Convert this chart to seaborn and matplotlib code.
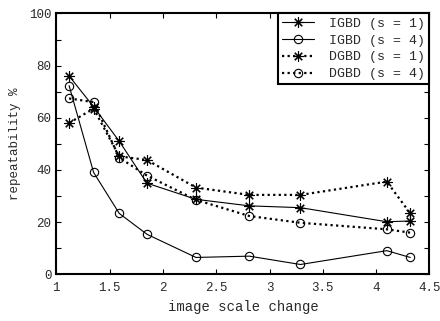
import matplotlib
matplotlib.use("Agg")
import matplotlib.pyplot as plt
import seaborn as sns
import pandas as pd
import numpy as np

scale = [1.12, 1.35, 1.59, 1.85, 2.31, 2.81, 3.29, 4.10, 4.32]
igbd_s1 = [76.0, 64.2, 51.0, 34.9, 28.7, 26.2, 25.5, 20.1, 20.4]
igbd_s4 = [72.3, 39.0, 23.3, 15.3, 6.4, 6.9, 3.7, 9.0, 6.4]
dgbd_s1 = [58.0, 63.5, 45.2, 43.8, 33.2, 30.4, 30.4, 35.5, 23.3]
dgbd_s4 = [67.4, 66.0, 44.7, 37.8, 28.5, 22.3, 19.7, 17.2, 15.9]
labels = ["IGBD (s = 1)", "IGBD (s = 4)", "DGBD (s = 1)", "DGBD (s = 4)"]
xticks = [1, 1.5, 2, 2.5, 3, 3.5, 4, 4.5]
xticklabels = ["1", "1.5", "2", "2.5", "3", "3.5", "4", "4.5"]
yticks = [0, 20, 40, 60, 80, 100]

sns.set_style("ticks")
plt.rcParams['font.family'] = ['Liberation Mono', 'DejaVu Sans Mono']
txt = '#2a2a2a'

df = pd.concat([
    pd.DataFrame({"x": scale, "y": v, "series": lab})
    for v, lab in zip([igbd_s1, igbd_s4, dgbd_s1, dgbd_s4], labels)
])

fig = plt.figure(figsize=(4.4, 3.21), dpi=100)
ax = fig.add_axes([0.128, 0.146, 0.848, 0.812])

styles = {
    labels[0]: dict(marker=(8, 2, 0), ls='-', lw=0.8, ms=7.5),
    labels[1]: dict(marker='o', ls='-', lw=0.8, ms=6),
    labels[2]: dict(marker=(8, 2, 0), ls=(0, (1, 1.5)), lw=1.6, ms=7.5),
    labels[3]: dict(marker='o', ls=(0, (1, 1.5)), lw=1.6, ms=6),
}
for lab in labels:
    st = styles[lab]
    sns.lineplot(data=df[df.series == lab], x="x", y="y", ax=ax, color='black',
                 marker=st['marker'], linestyle=st['ls'], linewidth=st['lw'],
                 markersize=st['ms'], markerfacecolor='none', markeredgecolor='black',
                 markeredgewidth=0.8, label=lab, estimator=None, sort=False)

ax.set_xlim(1, 4.5)
ax.set_ylim(0, 100)
ax.set_xticks(xticks)
ax.set_xticklabels(xticklabels)
ax.set_yticks(yticks)
ax.set_yticks(np.arange(10, 100, 20), minor=True)
ax.tick_params(which='both', direction='in', top=True, right=True, length=3.5, width=0.8,
               labelsize=9, color='black', labelcolor=txt)
ax.tick_params(axis='x', pad=6)
for s in ax.spines.values():
    s.set_linewidth(1.5)
    s.set_color('black')
ax.set_xlabel("image scale change", fontsize=10, labelpad=4, color=txt)
ax.set_ylabel("repeatability %", fontsize=9, labelpad=6, color=txt)

leg = ax.legend(loc='upper right', borderaxespad=0, fancybox=False, edgecolor='black',
                framealpha=1, fontsize=9.5, handlelength=2.4, handletextpad=1.2,
                labelspacing=0.35, borderpad=0.3)
for t in leg.get_texts():
    t.set_color(txt)
leg.get_frame().set_linewidth(1.5)

fig.savefig("out.png", dpi=100)
